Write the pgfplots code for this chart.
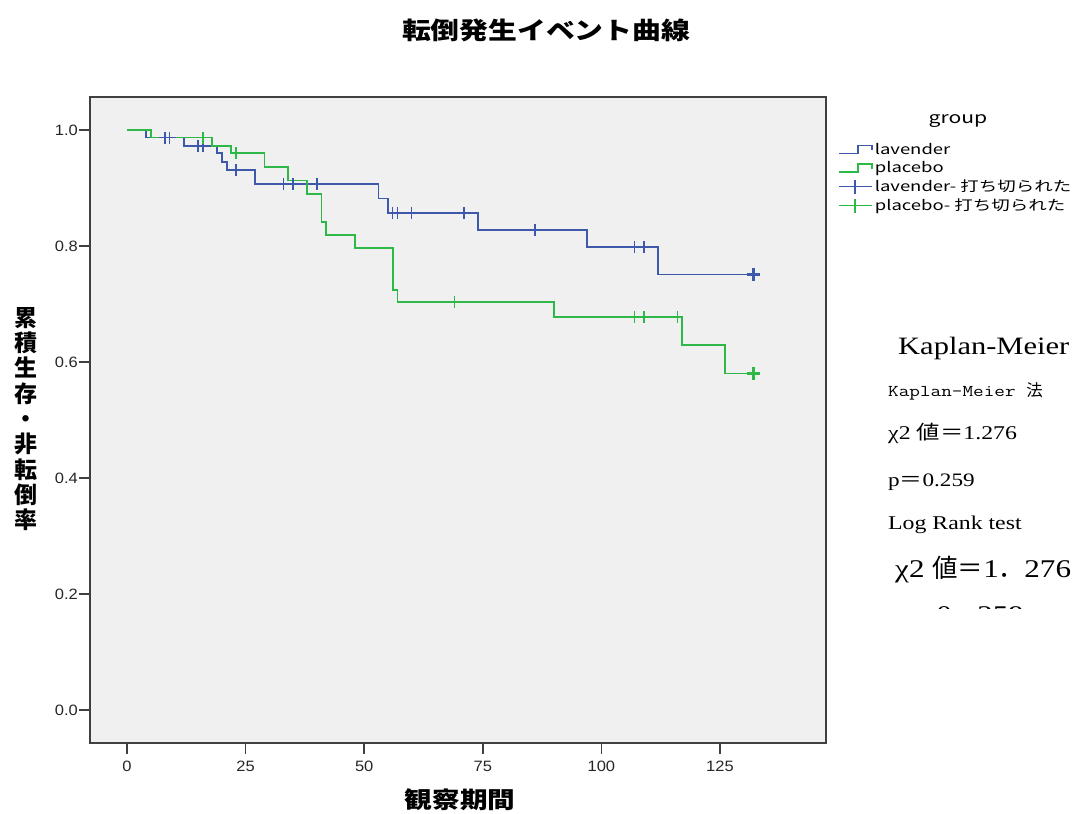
\documentclass[border=0pt]{standalone}
\usepackage{fontspec}
\usepackage{pgfplots}
\pgfplotsset{compat=1.18}
\newfontfamily\cjk{Noto Sans CJK JP}
\newfontfamily\cjkwide{Noto Sans CJK JP}[FakeStretch=1.2]
\newfontfamily\legfont{Noto Sans CJK JP}[FakeStretch=1.32]
\newfontfamily\serifw{Liberation Serif}[FakeStretch=1.22]
\newfontfamily\ttw{Latin Modern Mono}[FakeStretch=1.25]
\newfontfamily\tickfont{Liberation Sans}[FakeStretch=1.1]
\definecolor{kmblue}{RGB}{62,88,172}
\definecolor{kmgreen}{RGB}{46,184,72}
\definecolor{bgc}{RGB}{240,240,240}
\definecolor{axc}{RGB}{64,64,64}
\begin{document}
\begin{tikzpicture}
\path[use as bounding box] (0,0) rectangle (1077pt,814pt);
\begin{axis}[
  at={(90pt,71pt)}, anchor=south west,
  scale only axis, width=736pt, height=646pt,
  xmin=-7.8, xmax=147.35, ymin=-0.0569, ymax=1.0569,
  axis background/.style={fill=bgc},
  axis line style={draw=axc, line width=2pt},
  xtick={0,25,50,75,100,125}, ytick={0,0.2,0.4,0.6,0.8,1.0},
  tick pos=left, tick align=outside,
  major tick length=11pt,
  tick style={draw=axc, line width=1.5pt},
  /pgf/number format/assume math mode=true,
  yticklabel style={inner sep=1pt, /pgf/number format/fixed, /pgf/number format/fixed zerofill, /pgf/number format/precision=1},
  ticklabel style={font=\tickfont\fontsize{15}{17}\selectfont, text=black!85},
  xticklabel style={inner sep=2pt, yshift=-5pt},
  legend style={at={(1.0163,0.932)}, anchor=north west, draw=none, fill=none,
    font=\legfont\fontsize{14}{17}\selectfont, inner sep=0pt, row sep=1.8pt,
    cells={anchor=west}},
]
\addplot[const plot, color=kmblue, line width=1.8pt,
  legend image code/.code={\draw[kmblue, line width=1.6pt] (0pt,-4pt) -- (19pt,-4pt) -- (19pt,4pt) -- (33pt,4pt) -- (33pt,-1pt);}]
coordinates {(0,1.0) (4,0.987) (12,0.973) (19,0.960) (20,0.945) (21,0.931) (27,0.907) (53,0.882) (55,0.857) (74,0.828) (97,0.798) (112,0.751) (132,0.751)};
\addlegendentry{lavender}
\addplot[const plot, color=kmgreen, line width=1.8pt,
  legend image code/.code={\draw[kmgreen, line width=1.6pt] (0pt,-4pt) -- (19pt,-4pt) -- (19pt,4pt) -- (33pt,4pt) -- (33pt,-1pt);}]
coordinates {(0,1.0) (5,0.987) (18,0.973) (22,0.960) (29,0.936) (34,0.913) (38,0.890) (41,0.842) (42,0.819) (48,0.797) (56,0.724) (57,0.703) (90,0.678) (117,0.629) (126,0.580) (132,0.580)};
\addlegendentry{placebo}
\addplot[only marks, mark=+, mark size=6pt, color=kmblue, mark options={line width=1.5pt},
  legend image code/.code={\draw[kmblue, line width=1.4pt] (0pt,0pt) -- (33pt,0pt); \draw[kmblue, line width=1.4pt] (16pt,-7pt) -- (16pt,7pt);}]
coordinates {(8,0.987) (9,0.987) (15,0.973) (16,0.973) (23,0.931) (33,0.907) (35,0.907) (40,0.907) (56,0.857) (57,0.857) (60,0.857) (71,0.857) (86,0.828) (107,0.798) (109,0.798)};
\addlegendentry{lavender- 打ち切られた}
\addplot[only marks, mark=+, mark size=6pt, color=kmgreen, mark options={line width=1.5pt},
  legend image code/.code={\draw[kmgreen, line width=1.4pt] (0pt,0pt) -- (33pt,0pt); \draw[kmgreen, line width=1.4pt] (16pt,-7pt) -- (16pt,7pt);}]
coordinates {(16,0.987) (23,0.960) (69,0.703) (107,0.678) (109,0.678) (116,0.678)};
\addlegendentry{placebo- 打ち切られた}
\addplot[forget plot, only marks, mark=+, mark size=6.5pt, color=kmblue, mark options={line width=3pt}]
coordinates {(132,0.751)};
\addplot[forget plot, only marks, mark=+, mark size=6.5pt, color=kmgreen, mark options={line width=3pt}]
coordinates {(132,0.580)};
\end{axis}
% title and axis labels
\node[font=\cjkwide\bfseries\fontsize{24}{28}\selectfont] at (546pt,784pt) {転倒発生イベント曲線};
\node[font=\cjkwide\bfseries\fontsize{23}{28}\selectfont] at (460pt,14pt) {観察期間};
\node[font=\cjk\bfseries\fontsize{23}{25.3}\selectfont, align=center] at (25.5pt,395pt) {累\\積\\生\\存\\・\\非\\転\\倒\\率};
\node[font=\legfont\fontsize{16}{18}\selectfont] at (958pt,693pt) {group};
% annotations
\node[anchor=base west, inner sep=0pt, font=\serifw\fontsize{25}{28}\selectfont] at (898pt,459pt) {Kaplan-Meier};
\node[anchor=base west, inner sep=0pt, font=\ttw\fontsize{16.5}{18}\selectfont] at (888pt,417pt) {Kaplan-Meier {\cjk 法}};
\node[anchor=base west, inner sep=0pt, font=\serifw\fontsize{19.5}{21}\selectfont] at (888pt,374pt) {χ2 {\cjkwide 値＝}1.276};
\node[anchor=base west, inner sep=0pt, font=\serifw\fontsize{19}{21}\selectfont] at (888pt,327pt) {p{\cjkwide ＝}0.259};
\node[anchor=base west, inner sep=0pt, font=\serifw\fontsize{19.5}{21}\selectfont] at (888pt,284pt) {Log Rank test};
\node[anchor=base west, inner sep=0pt, font=\serifw\fontsize{25.5}{28}\selectfont] at (895pt,236pt) {χ2 {\cjk 値＝}1{\cjk ．}276};
\begin{scope}
\clip (880pt,205pt) rectangle (1077pt,225pt);
\node[anchor=base west, inner sep=0pt, font=\serifw\fontsize{25.5}{28}\selectfont] at (895pt,190pt) {p{\cjk ＝}0{\cjk ．}259};
\end{scope}
\end{tikzpicture}
\end{document}
